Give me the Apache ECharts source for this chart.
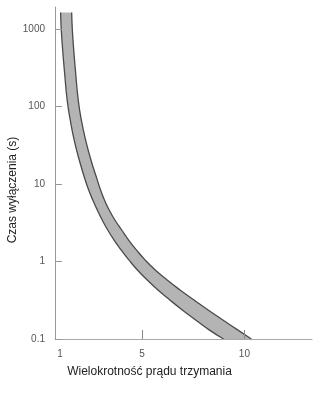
<!DOCTYPE html>
<html><head><meta charset="utf-8">
<script src="https://cdn.jsdelivr.net/npm/echarts@6/dist/echarts.min.js"></script>
<style>html,body{margin:0;padding:0;background:#fff}#c{width:323px;height:395px}</style>
</head><body><div id="c"></div>
<script>
// Czas wyłączenia (s) – shared time levels for both band edges
const timeValues = [1633, 1000, 536, 279, 121, 67, 37, 20.4, 11.3, 8.37, 6.22, 4.62, 3.43, 2.55, 1.89, 1.41, 1.05, 0.777, 0.577, 0.429, 0.319, 0.237, 0.176, 0.131, 0.1];
// Wielokrotność prądu trzymania – lower/left edge of band
const lowerMultiples = [1.03, 1.06, 1.13, 1.22, 1.35, 1.50, 1.69, 1.94, 2.23, 2.40, 2.60, 2.82, 3.06, 3.33, 3.64, 3.98, 4.36, 4.78, 5.26, 5.78, 6.36, 6.97, 7.62, 8.28, 8.98];
// upper/right edge of band
const upperMultiples = [1.57, 1.60, 1.67, 1.76, 1.89, 2.04, 2.25, 2.51, 2.82, 2.98, 3.17, 3.40, 3.68, 4.01, 4.35, 4.73, 5.15, 5.65, 6.23, 6.86, 7.54, 8.23, 8.95, 9.67, 10.34];
const xTickLabels = [1, 5, 10];
const xTickMarks = [5, 10];
const yTickLabels = [0.1, 1, 10, 100, 1000];
const xAxisTitle = 'Wielokrotność prądu trzymania';
const yAxisTitle = 'Czas wyłączenia (s)';

const FONT = '"Liberation Sans", Arial, sans-serif';
const BAND = '#b4b4b4';
const EDGE = '#4a4a4a';
const lowerData = lowerMultiples.map((x, i) => [x, timeValues[i]]);
const upperData = upperMultiples.map((x, i) => [x, timeValues[i]]);
// number of lower-edge points needed to close the flat top end of the band
let topCount = 0;
while (topCount < lowerMultiples.length && lowerMultiples[topCount] <= upperMultiples[1]) topCount++;

const chart = echarts.init(document.getElementById('c'), null, {renderer: 'canvas'});
chart.setOption({
  animation: false,
  backgroundColor: '#fff',
  grid: {left: 55, right: 11, top: 7, bottom: 56},
  xAxis: {
    type: 'value', min: 0.756, max: 13.3, z: 5,
    splitLine: {show: false},
    axisLine: {lineStyle: {color: '#aaaaaa', width: 1}},
    axisTick: {inside: true, length: 9, customValues: xTickMarks, lineStyle: {color: '#888888'}},
    axisLabel: {customValues: xTickLabels, margin: 10, fontSize: 10, color: '#555', fontFamily: FONT}
  },
  yAxis: {
    type: 'log', logBase: 10, min: 0.1, max: 1923, z: 5,
    splitLine: {show: false},
    axisLine: {show: true, lineStyle: {color: '#999999', width: 1}},
    axisTick: {show: true, inside: true, length: 7, customValues: yTickLabels, lineStyle: {color: '#999999'}},
    axisLabel: {customValues: yTickLabels, margin: 10, fontSize: 10, color: '#555', fontFamily: FONT,
      formatter: v => String(v)}
  },
  graphic: [
    {type: 'text', x: 149.5, y: 371.5, style: {text: xAxisTitle, font: '12px ' + FONT, fill: '#222', align: 'center', verticalAlign: 'middle'}},
    {type: 'text', x: 13, y: 190, rotation: Math.PI / 2, style: {text: yAxisTitle, font: '12px ' + FONT, fill: '#222', align: 'center', verticalAlign: 'middle'}}
  ],
  series: [
    // top end of the band (region left of where the upper edge begins)
    {
      type: 'custom', coordinateSystem: 'cartesian2d', silent: true, z: 1,
      data: [lowerData[0]],
      renderItem: (params, api) => {
        if (params.dataIndex !== 0) return;
        const pts = [];
        for (let i = 0; i <= topCount && i < lowerData.length; i++) pts.push(api.coord(lowerData[i]));
        pts.push(api.coord(upperData[1]));
        pts.push(api.coord(upperData[0]));
        return {type: 'polygon', shape: {points: pts}, style: {fill: BAND}};
      }
    },
    {type: 'line', data: upperData, symbol: 'none', z: 2, silent: true, smooth: 0.5,
      lineStyle: {color: EDGE, width: 1.3}, areaStyle: {color: BAND, opacity: 1, origin: 'start'}},
    {type: 'line', data: lowerData, symbol: 'none', z: 3, silent: true, smooth: 0.5,
      lineStyle: {color: EDGE, width: 1.3}, areaStyle: {color: '#ffffff', opacity: 1, origin: 'start'}}
  ]
});
</script>
</body></html>
